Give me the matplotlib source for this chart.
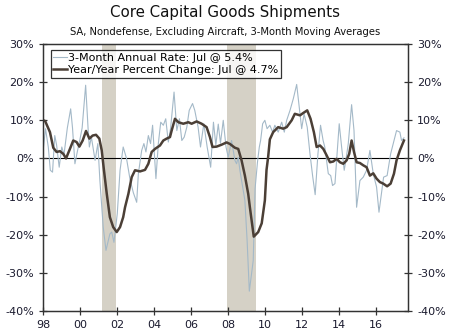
import matplotlib
matplotlib.use('Agg')
import matplotlib.pyplot as plt
from matplotlib.ticker import FixedLocator, FuncFormatter

plt.rcParams['font.family'] = ['DejaVu Sans']
plt.rcParams['axes.unicode_minus'] = False

# 3-month annualized rate (decimal year, %)
rate_dates = [1998.0, 1998.12, 1998.27, 1998.38, 1998.5, 1998.62, 1998.72, 1998.86,
              1999.0, 1999.12, 1999.3, 1999.48, 1999.58, 1999.71, 1999.85, 1999.97,
              2000.1, 2000.29, 2000.42, 2000.49, 2000.6, 2000.8, 2000.95,
              2001.06, 2001.24, 2001.39, 2001.6, 2001.7, 2001.82, 2002.0, 2002.15,
              2002.32, 2002.5, 2002.69, 2002.87, 2003.05, 2003.14, 2003.32, 2003.44,
              2003.55, 2003.68, 2003.8, 2003.91, 2004.09, 2004.22, 2004.35, 2004.49,
              2004.62, 2004.76, 2004.88, 2005.07, 2005.22, 2005.36, 2005.49, 2005.62,
              2005.76, 2005.89, 2006.07, 2006.19, 2006.37, 2006.5, 2006.68, 2006.86,
              2007.05, 2007.2, 2007.33, 2007.46, 2007.58, 2007.73, 2007.88, 2008.0,
              2008.18, 2008.36, 2008.45, 2008.54, 2008.63, 2008.78, 2008.9, 2009.02,
              2009.14, 2009.35, 2009.45, 2009.58, 2009.68, 2009.75, 2009.86, 2009.98,
              2010.1, 2010.25, 2010.4, 2010.52, 2010.7, 2010.89, 2011.03, 2011.16,
              2011.34, 2011.52, 2011.7, 2011.84, 2011.97, 2012.1, 2012.27, 2012.42,
              2012.56, 2012.7, 2012.85, 2012.99, 2013.13, 2013.22, 2013.41, 2013.54,
              2013.64, 2013.77, 2013.86, 2014.0, 2014.13, 2014.27, 2014.36, 2014.49,
              2014.67, 2014.8, 2014.94, 2015.12, 2015.3, 2015.48, 2015.66, 2015.84,
              2016.02, 2016.15, 2016.4, 2016.59, 2016.78, 2016.92, 2017.1, 2017.28,
              2017.37, 2017.5]
rate_vals = [2.5, 7.8, 3.0, -3.1, -3.6, 6.0, 3.5, -2.3,
             3.0, 1.0, 8.0, 13.0, 8.0, -1.4, 2.0, 4.7,
             8.0, 19.2, 8.0, 3.0, 5.6, -0.5, 3.9,
             -5.8, -18.0, -24.1, -19.8, -19.3, -22.0, -14.5, -3.1,
             3.0, 0.0, -5.5, -9.0, -11.5, -4.0, 2.1, 3.9,
             1.7, 6.0, 3.9, 8.7, -5.3, 3.9, 9.5, 8.7,
             10.4, 4.3, 7.8, 17.4, 7.3, 10.4, 4.7, 5.6,
             8.2, 12.6, 14.4, 12.6, 8.2, 3.0, 9.1, 3.0,
             -2.3, 9.5, 3.5, 9.0, 4.0, 10.0, 3.0, 0.3,
             4.7, -0.5, -1.4, 0.3, -3.1, -7.5, -11.0, -21.5,
             -34.8, -26.8, -8.0, -1.0, 3.0, 4.7, 9.1, 10.0,
             7.8, 8.7, 6.9, 8.7, 6.9, 9.5, 6.9, 10.0,
             12.6, 15.7, 19.4, 13.5, 7.8, 11.7, 8.2, 1.2,
             -4.5, -9.5, 1.2, 8.7, 4.7, 3.0, -4.0, -4.5,
             -7.1, -6.6, -0.5, 9.1, 3.0, -3.1, -0.5, 3.9,
             14.1, 7.3, -12.8, -5.8, -4.9, -3.1, 2.1, -4.0,
             -7.5, -14.1, -4.9, -4.5, 1.2, 3.9, 7.3, 6.9,
             4.7, 5.4]

# year/year percent change (decimal year, %)
yoy_dates = [1998.0, 1998.1, 1998.36, 1998.54, 1998.72, 1998.9, 1999.08, 1999.23,
             1999.44, 1999.62, 1999.8, 1999.95, 2000.13, 2000.31, 2000.49, 2000.67,
             2000.85, 2001.03, 2001.16, 2001.28, 2001.43, 2001.6, 2001.78, 2001.97,
             2002.15, 2002.32, 2002.42, 2002.6, 2002.78, 2002.96, 2003.23, 2003.5,
             2003.68, 2003.86, 2004.04, 2004.31, 2004.49, 2004.67, 2004.85, 2004.94,
             2005.12, 2005.3, 2005.57, 2005.84, 2006.02, 2006.29, 2006.56, 2006.83,
             2007.01, 2007.15, 2007.37, 2007.64, 2007.91, 2008.09, 2008.36, 2008.54,
             2008.72, 2008.9, 2009.08, 2009.17, 2009.38, 2009.62, 2009.81, 2009.98,
             2010.07, 2010.16, 2010.25, 2010.43, 2010.7, 2010.97, 2011.16, 2011.43,
             2011.6, 2011.88, 2012.05, 2012.27, 2012.45, 2012.63, 2012.78, 2012.96,
             2013.14, 2013.32, 2013.5, 2013.68, 2013.86, 2014.04, 2014.22, 2014.4,
             2014.54, 2014.67, 2014.8, 2014.94, 2015.12, 2015.3, 2015.48, 2015.66,
             2015.84, 2016.02, 2016.2, 2016.38, 2016.59, 2016.78, 2016.96, 2017.1,
             2017.28, 2017.5]
yoy_vals = [10.0, 9.8, 6.9, 2.8, 1.7, 1.9, 1.2, 0.0,
            2.5, 4.7, 4.3, 3.1, 4.7, 7.2, 5.2, 6.0,
            6.2, 5.2, 2.1, -3.1, -9.2, -15.4, -18.0, -19.3,
            -18.0, -15.4, -12.8, -9.3, -4.9, -3.1, -3.4, -3.0,
            -1.4, 1.7, 2.5, 3.4, 4.7, 5.2, 5.6, 7.3,
            10.4, 9.5, 9.1, 9.5, 9.1, 9.7, 9.1, 8.2,
            5.6, 3.0, 3.1, 3.6, 4.2, 3.8, 2.8, 2.5,
            -0.5, -4.5, -9.3, -12.8, -20.5, -19.3, -17.0, -11.0,
            -3.0, 0.5, 5.0, 6.9, 8.2, 7.8, 8.2, 10.0,
            11.7, 11.3, 11.9, 12.6, 10.4, 6.9, 3.0, 3.4,
            2.5, 0.8, -1.0, -0.8, -0.1, -1.0, -1.4, -0.5,
            1.2, 4.7, 1.7, -1.0, -1.2, -1.8, -2.3, -4.5,
            -3.9, -5.3, -6.2, -6.6, -7.3, -6.6, -4.0, -0.5,
            2.1, 4.7]

# recessions
recessions = [(2001.17, 2001.92), (2007.92, 2009.5)]

year_ticks = list(range(1998, 2017, 2))
pct_ticks = [-40, -30, -20, -10, 0, 10, 20, 30]

fig = plt.figure(figsize=(4.5, 3.36), dpi=100)
ax = fig.add_axes([0.0962, 0.0744, 0.8105, 0.7946])

for start, end in recessions:
    ax.axvspan(start, end, color='#d5d1c6', lw=0, zorder=0)

ax.axhline(0, color='black', lw=0.8, zorder=1)
ax.plot(rate_dates, rate_vals, color='#a4b9c8', lw=0.8, zorder=2,
        label='3-Month Annual Rate: Jul @ 5.4%')
ax.plot(yoy_dates, yoy_vals, color='#4b3f36', lw=1.8, zorder=3,
        label='Year/Year Percent Change: Jul @ 4.7%')

ax.set_xlim(1998, 2017.72)
ax.set_ylim(-40, 30)
ax.xaxis.set_major_locator(FixedLocator(year_ticks))
ax.xaxis.set_major_formatter(FuncFormatter(lambda v, p: '%02d' % (int(round(v)) % 100)))
ax.yaxis.set_major_locator(FixedLocator(pct_ticks))
ax.yaxis.set_major_formatter(FuncFormatter(lambda v, p: '%d%%' % v))

ax2 = ax.twinx()
ax2.set_ylim(-40, 30)
ax2.yaxis.set_major_locator(FixedLocator(pct_ticks))
ax2.yaxis.set_major_formatter(FuncFormatter(lambda v, p: '%d%%' % v))

for a in (ax, ax2):
    for s in a.spines.values():
        s.set_color('#333333')
        s.set_linewidth(0.9)
    a.tick_params(direction='inout', length=6, width=0.9, labelsize=8,
                  colors='#333333', labelcolor='#1a1a2e')

leg = ax.legend(loc='upper left', bbox_to_anchor=(0.014, 0.985), fontsize=8,
                frameon=True, fancybox=False, handlelength=1.2, handletextpad=0.1,
                borderpad=0.25, labelspacing=0.2, borderaxespad=0.2)
leg.get_frame().set_edgecolor('black')
leg.get_frame().set_linewidth(0.9)

fig.text(0.5, 0.962, 'Core Capital Goods Shipments', ha='center', va='center',
         fontsize=10.8, color='#111111')
fig.text(0.5, 0.905, 'SA, Nondefense, Excluding Aircraft, 3-Month Moving Averages',
         ha='center', va='center', fontsize=7.2, color='#111111')

fig.savefig('out.png', dpi=100)
